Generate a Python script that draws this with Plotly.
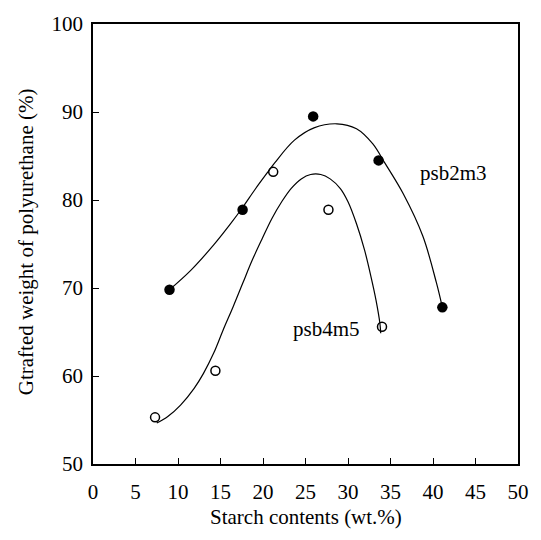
import plotly.graph_objects as go

# Measured data points
psb2m3_x = [9.0, 17.6, 25.9, 33.6, 41.1]
psb2m3_y = [69.8, 78.9, 89.5, 84.5, 67.8]
psb4m5_x = [7.3, 14.4, 21.2, 27.7, 34.0]
psb4m5_y = [55.3, 60.6, 83.2, 78.9, 65.6]

# Fitted curves
fit2_x = [9.0, 11.5, 14.2, 16.1, 17.6, 19.1, 20.7, 21.4, 23.7, 26.0, 28.7, 31.0, 32.9, 34.4, 36.5, 38.8, 40.4, 41.1]
fit2_y = [69.8, 72.0, 74.9, 77.2, 79.15, 81.25, 83.35, 84.25, 86.8, 88.2, 88.66, 88.1, 86.4, 84.1, 80.7, 75.9, 70.6, 67.8]
fit4_x = [7.5, 8.8, 10.3, 11.9, 13.0, 14.2, 15.3, 16.5, 17.6, 18.75, 19.9, 21.05, 22.2, 23.3, 24.5,
          25.6, 26.8, 27.9, 29.1, 30.0, 31.0, 31.95, 32.7, 33.3, 33.75, 33.85]
fit4_y = [54.65, 55.4, 56.7, 58.6, 60.3, 62.6, 65.2, 67.9, 70.5, 73.2, 75.6, 77.9, 79.8, 81.3, 82.4,
          82.9, 82.9, 82.4, 81.3, 79.8, 77.3, 74.3, 71.3, 68.6, 66.0, 64.85]

x_ticks = [0, 5, 10, 15, 20, 25, 30, 35, 40, 45, 50]
y_ticks = [50, 60, 70, 80, 90, 100]

FONT = "Liberation Serif"

fig = go.Figure()
fig.add_trace(go.Scatter(x=fit2_x, y=fit2_y, mode="lines",
                         line=dict(color="black", width=1.2, shape="spline", smoothing=1.0),
                         hoverinfo="skip", showlegend=False))
fig.add_trace(go.Scatter(x=fit4_x, y=fit4_y, mode="lines",
                         line=dict(color="black", width=1.2, shape="spline", smoothing=1.0),
                         hoverinfo="skip", showlegend=False))
fig.add_trace(go.Scatter(x=psb2m3_x, y=psb2m3_y, mode="markers", name="psb2m3",
                         marker=dict(symbol="circle", size=10.5, color="black"),
                         showlegend=False))
fig.add_trace(go.Scatter(x=psb4m5_x, y=psb4m5_y, mode="markers", name="psb4m5",
                         marker=dict(symbol="circle-open", size=9, color="black",
                                     line=dict(width=1.5)),
                         showlegend=False))

fig.add_annotation(x=42.4, y=83.1, text="psb2m3", showarrow=False,
                   font=dict(family=FONT, size=21, color="black"))
fig.add_annotation(x=27.5, y=65.3, text="psb4m5", showarrow=False,
                   font=dict(family=FONT, size=21, color="black"))

fig.add_annotation(xref="paper", yref="paper", x=0.5, y=-0.1195,
                   xanchor="center", yanchor="middle",
                   text="Starch contents (wt.%)", showarrow=False,
                   font=dict(family=FONT, size=21, color="black"))
fig.add_annotation(xref="paper", yref="paper", x=-0.159, y=0.505,
                   xanchor="center", yanchor="middle",
                   text="Gtrafted weight of polyurethane (%)", showarrow=False,
                   textangle=-90,
                   font=dict(family=FONT, size=21, color="black"))

axis_common = dict(showgrid=False, zeroline=False, showline=True, linecolor="black",
                   linewidth=1.5, mirror=True, ticks="inside", ticklen=6,
                   tickcolor="black", tickwidth=1.3,
                   tickfont=dict(family=FONT, size=21, color="black"))

fig.update_xaxes(range=[0, 50], tickvals=x_ticks, ticklabelstandoff=8, **axis_common)
fig.update_yaxes(range=[50, 100], tickvals=y_ticks, ticklabelstandoff=4, **axis_common)

fig.update_layout(width=541, height=540,
                  margin=dict(l=93, r=12, t=23, b=76),
                  paper_bgcolor="white", plot_bgcolor="white",
                  showlegend=False)

fig.write_html("out.html")
